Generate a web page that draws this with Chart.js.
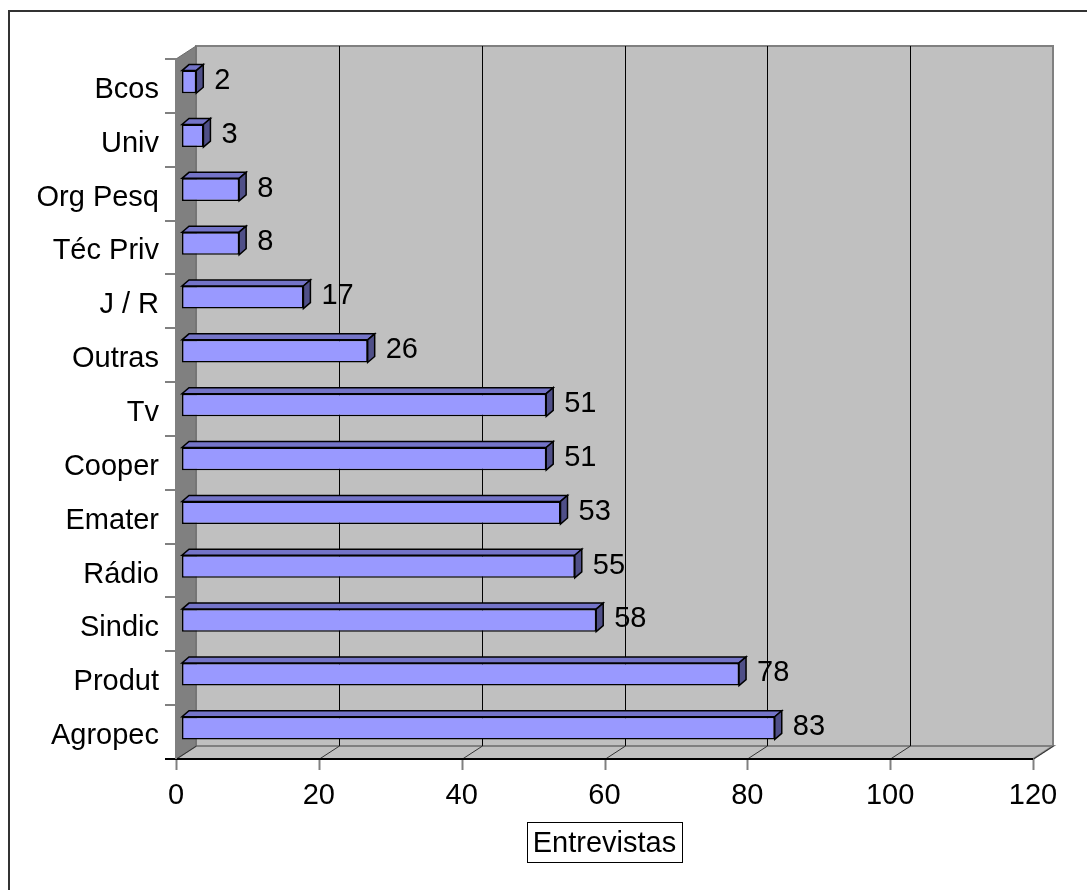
<!DOCTYPE html>
<html>
<head>
<meta charset="utf-8">
<title>Entrevistas</title>
<script src="https://cdn.jsdelivr.net/npm/chart.js@4"></script>
<style>
    html, body { margin: 0; padding: 0; background: #fff; }
    #wrap { position: relative; width: 1087px; height: 890px; }
</style>
</head>
<body>
<div id="wrap"><canvas id="chart" width="1087" height="890"></canvas></div>
<script>
// Data
var categories = ['Bcos', 'Univ', 'Org Pesq', 'Téc Priv', 'J / R', 'Outras', 'Tv', 'Cooper', 'Emater', 'Rádio', 'Sindic', 'Produt', 'Agropec'];
var entrevistas = [2, 3, 8, 8, 17, 26, 51, 51, 53, 55, 58, 78, 83];
var xTicks = [0, 20, 40, 60, 80, 100, 120];
var axisTitle = 'Entrevistas';

// 3D look
var WALL_DX = 20, WALL_DY = -13;   // depth of the walls
var BAR_DX = 6, BAR_DY = -4;       // where the bars sit inside the depth
var BAR_DEPTH_X = 7, BAR_DEPTH_Y = -6;
var FONT = '"Liberation Sans", Arial, sans-serif';
var FONT_SIZE = 29;

function poly(ctx, pts, fill, stroke, lw) {
    ctx.beginPath();
    ctx.moveTo(pts[0][0], pts[0][1]);
    for (var i = 1; i < pts.length; i++) ctx.lineTo(pts[i][0], pts[i][1]);
    ctx.closePath();
    if (fill) { ctx.fillStyle = fill; ctx.fill(); }
    if (stroke) { ctx.strokeStyle = stroke; ctx.lineWidth = lw || 1; ctx.stroke(); }
}

// Walls, floor, grid lines, axis lines and the outer frame
var wallsPlugin = {
    id: 'walls',
    beforeDatasetsDraw: function (chart) {
        var ctx = chart.ctx;
        var a = chart.chartArea;
        var xs = chart.scales.x;
        ctx.save();

        // outer frame (only left and top are inside the picture)
        ctx.strokeStyle = '#333';
        ctx.lineWidth = 2;
        ctx.beginPath();
        ctx.moveTo(9, 900);
        ctx.lineTo(9, 11);
        ctx.lineTo(1100, 11);
        ctx.stroke();

        // back wall
        poly(ctx, [[a.left + WALL_DX, a.top + WALL_DY], [a.right + WALL_DX, a.top + WALL_DY],
                   [a.right + WALL_DX, a.bottom + WALL_DY], [a.left + WALL_DX, a.bottom + WALL_DY]],
             '#c0c0c0', '#808080', 2);
        // floor
        poly(ctx, [[a.left, a.bottom], [a.left + WALL_DX, a.bottom + WALL_DY],
                   [a.right + WALL_DX, a.bottom + WALL_DY], [a.right, a.bottom]],
             '#c0c0c0', '#808080', 2);
        // side wall
        poly(ctx, [[a.left, a.top], [a.left + WALL_DX, a.top + WALL_DY],
                   [a.left + WALL_DX, a.bottom + WALL_DY], [a.left, a.bottom]],
             '#808080', '#6a6a6a', 1);

        // grid lines on the back wall and the floor
        xTicks.forEach(function (v) {
            var px = Math.round(xs.getPixelForValue(v)) + 0.5;
            if (v > xTicks[0] && v < xTicks[xTicks.length - 1]) {
                ctx.strokeStyle = '#000';
                ctx.lineWidth = 1;
                ctx.beginPath();
                ctx.moveTo(px + WALL_DX, a.top + WALL_DY);
                ctx.lineTo(px + WALL_DX, a.bottom + WALL_DY);
                ctx.stroke();
            }
            ctx.strokeStyle = '#333';
            ctx.lineWidth = 1;
            ctx.beginPath();
            ctx.moveTo(px, a.bottom);
            ctx.lineTo(px + WALL_DX, a.bottom + WALL_DY);
            ctx.stroke();
            // tick marks under the axis
            ctx.strokeStyle = '#808080';
            ctx.lineWidth = 2;
            ctx.beginPath();
            ctx.moveTo(px, a.bottom);
            ctx.lineTo(px, a.bottom + 11);
            ctx.stroke();
        });

        // front axis lines
        ctx.strokeStyle = '#000';
        ctx.lineWidth = 2;
        ctx.beginPath();
        ctx.moveTo(a.left - 11, a.bottom);
        ctx.lineTo(a.right, a.bottom);
        ctx.stroke();
        ctx.strokeStyle = '#808080';
        ctx.beginPath();
        ctx.moveTo(a.left, a.top);
        ctx.lineTo(a.left, a.bottom);
        ctx.stroke();

        // category tick marks
        var step = (a.bottom - a.top) / categories.length;
        ctx.strokeStyle = '#808080';
        ctx.lineWidth = 2;
        for (var i = 0; i < categories.length; i++) {
            var py = Math.round(a.top + i * step);
            ctx.beginPath();
            ctx.moveTo(a.left - 11, py);
            ctx.lineTo(a.left, py);
            ctx.stroke();
        }

        // axis title in a box
        ctx.font = FONT_SIZE + 'px ' + FONT;
        var tw = ctx.measureText(axisTitle).width;
        var cx = (a.left + a.right) / 2;
        var cy = a.bottom + 83;
        ctx.fillStyle = '#fff';
        ctx.fillRect(cx - tw / 2 - 6, cy - 20, tw + 12, 40);
        ctx.strokeStyle = '#000';
        ctx.lineWidth = 1;
        ctx.strokeRect(Math.round(cx - tw / 2 - 6) + 0.5, Math.round(cy - 20) + 0.5, Math.round(tw + 12), 40);
        ctx.fillStyle = '#000';
        ctx.textAlign = 'center';
        ctx.textBaseline = 'middle';
        ctx.fillText(axisTitle, cx, cy + 2);

        ctx.restore();

        // bars are drawn a bit inside the depth
        ctx.save();
        ctx.translate(BAR_DX, BAR_DY);
    },
    afterDatasetsDraw: function (chart) {
        var ctx = chart.ctx;
        var meta = chart.getDatasetMeta(0);
        meta.data.forEach(function (bar, i) {
            var p = bar.getProps(['x', 'y', 'base', 'height'], true);
            var top = p.y - p.height / 2;
            var bottom = p.y + p.height / 2;
            // top face
            poly(ctx, [[p.base, top], [p.x, top], [p.x + BAR_DEPTH_X, top + BAR_DEPTH_Y], [p.base + BAR_DEPTH_X, top + BAR_DEPTH_Y]],
                 '#7474c8', '#000', 1.5);
            // end face
            poly(ctx, [[p.x, top], [p.x + BAR_DEPTH_X, top + BAR_DEPTH_Y], [p.x + BAR_DEPTH_X, bottom + BAR_DEPTH_Y], [p.x, bottom]],
                 '#4f4f88', '#000', 1.5);
            // value label
            ctx.fillStyle = '#000';
            ctx.font = FONT_SIZE + 'px ' + FONT;
            ctx.textAlign = 'left';
            ctx.textBaseline = 'middle';
            ctx.fillText(String(entrevistas[i]), p.x + BAR_DEPTH_X + 11, p.y - 1);
        });
        ctx.restore();
    }
};

var ctx = document.getElementById('chart').getContext('2d');
var chart = new Chart(ctx, {
    type: 'bar',
    data: {
        labels: categories,
        datasets: [{
            label: axisTitle,
            data: entrevistas,
            backgroundColor: '#9999ff',
            borderColor: '#000',
            borderWidth: 1.5,
            borderSkipped: false,
            categoryPercentage: 1,
            barPercentage: 0.42
        }]
    },
    options: {
        indexAxis: 'y',
        responsive: false,
        animation: false,
        layout: { padding: { left: 0, top: 59, right: 54, bottom: 0 } },
        plugins: {
            legend: { display: false },
            tooltip: { enabled: false }
        },
        scales: {
            x: {
                min: 0,
                max: 120,
                grid: { display: false, drawTicks: false },
                border: { display: false },
                ticks: {
                    stepSize: 20,
                    padding: 20,
                    color: '#000',
                    font: { family: FONT, size: FONT_SIZE }
                },
                afterFit: function (scale) { scale.height = 131; }
            },
            y: {
                grid: { display: false, drawTicks: false },
                border: { display: false },
                ticks: {
                    padding: 17,
                    labelOffset: 4,
                    color: '#000',
                    font: { family: FONT, size: FONT_SIZE }
                },
                afterFit: function (scale) { scale.width = 176; }
            }
        }
    },
    plugins: [wallsPlugin]
});
</script>
</body>
</html>
